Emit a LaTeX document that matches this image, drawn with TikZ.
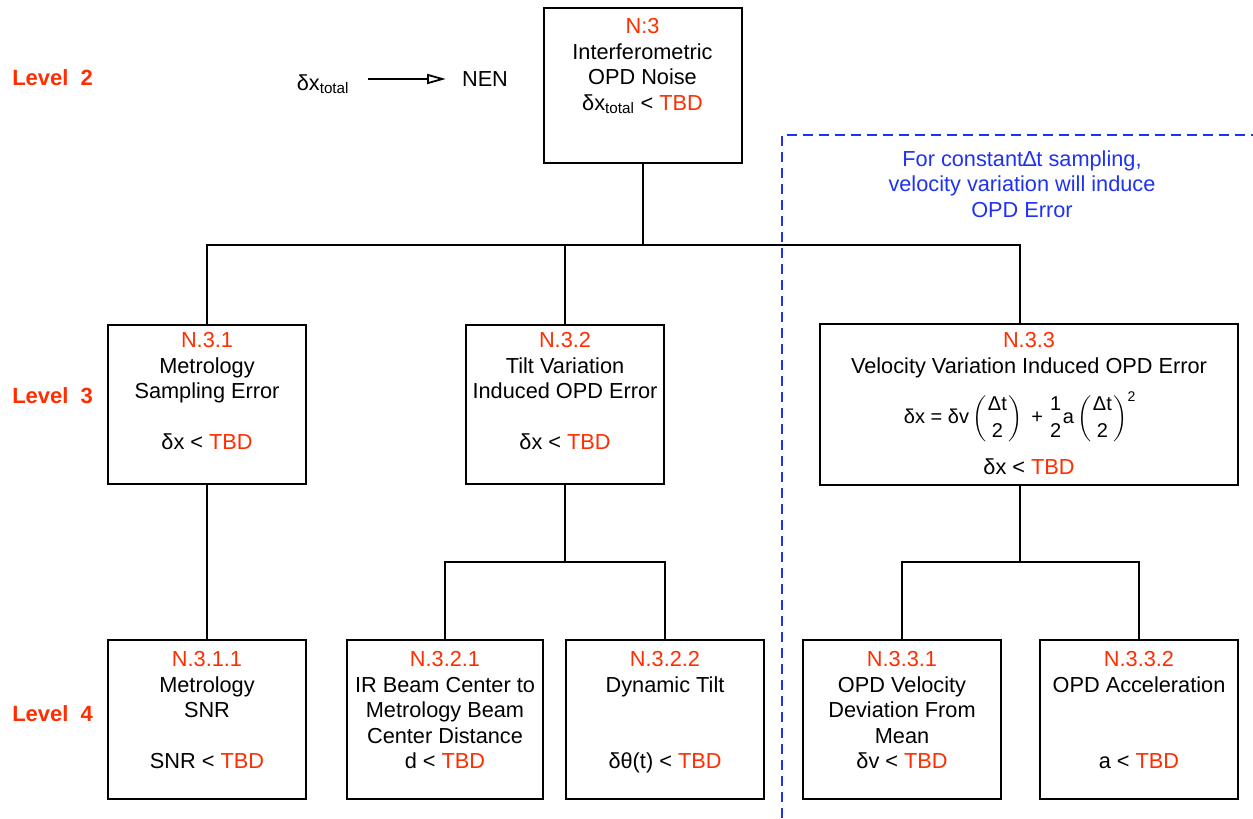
\documentclass[tikz,border=0pt]{standalone}
\usepackage{fontspec}
\usepackage{amsmath}
\setmainfont{Liberation Sans}
\usetikzlibrary{arrows.meta,positioning}

\definecolor{tbdred}{RGB}{255,45,0}
\definecolor{noteblue}{RGB}{30,50,240}
\newdimen\px \px=0.75pt
\newcommand{\reqid}[1]{\textcolor{tbdred}{#1}}
\newcommand{\tbd}{\textcolor{tbdred}{TBD}}
\newcommand{\halfof}[2]{\genfrac{}{}{0pt}{0}{\text{#1}}{\text{#2}}}

\tikzset{
  blk/.style={draw, line width=1.5pt, inner sep=0pt,
    minimum width=198\px, minimum height=159\px},
  txt/.style={align=center, inner sep=0pt, anchor=north},
  wire/.style={line width=1.35pt},
  lvl/.style={anchor=west, inner sep=0pt, text=tbdred, font=\fontsize{16.5pt}{19.2pt}\selectfont\bfseries}
}

\begin{document}
\begin{tikzpicture}[x=0.75pt, y=-0.75pt, font=\fontsize{16.3pt}{19.2pt}\selectfont]
  \useasboundingbox (0,0) rectangle (1253,818);

  % level labels
  \node[lvl] (l2) at (12,78)  {Level\ \ 2};
  \node[lvl] (l3) at (12,396) {Level\ \ 3};
  \node[lvl] (l4) at (12,714) {Level\ \ 4};

  % legend arrow
  \node[inner sep=0pt] (dxt) at (323,84) {δx\textsubscript{total}};
  \node[inner sep=0pt] (nen) at (485,79) {NEN};
  \draw[wire, -{Triangle[open, length=14pt, width=7.5pt]}, shorten <=14pt, shorten >=12pt]
    (dxt.east |- nen) -- (nen.west);

  % boxes
  \node[blk, minimum height=155\px] (n3) at (642.5,85.5) {};
  \node[blk] (n31)  at (207,404.5) {};
  \node[blk] (n32)  at (565,404.5) {};
  \node[blk, minimum width=418\px, minimum height=161\px] (n33) at (1029,404) {};
  \node[blk] (n311) at (207,719.5) {};
  \node[blk, minimum width=196\px] (n321) at (445,719.5) {};
  \node[blk] (n322) at (665,719.5) {};
  \node[blk] (n331) at (902,719.5) {};
  \node[blk] (n332) at (1139,719.5) {};

  % box texts
  \node[txt] (t3) at ([yshift=-11\px]n3.north)
    {\reqid{N:3}\\Interferometric\\OPD Noise\\δx\textsubscript{total} < \tbd};
  \node[txt] (t31) at ([yshift=-8\px]n31.north)
    {\reqid{N.3.1}\\Metrology\\Sampling Error\\[19.2pt]δx < \tbd};
  \node[txt] (t32) at ([yshift=-8\px]n32.north)
    {\reqid{N.3.2}\\Tilt Variation\\Induced OPD Error\\[19.2pt]δx < \tbd};
  \node[txt] (t33) at ([yshift=-10\px]n33.north)
    {\reqid{N.3.3}\\Velocity Variation Induced OPD Error};
  \node[inner sep=0pt, font=\fontsize{15pt}{18pt}\selectfont] (eq33) at (1020,417)
    {$\text{δx = δv}\left(\halfof{Δt}{2}\right)\text{ + }
      \halfof{1}{2}\text{a}\left(\halfof{Δt}{2}\right)^{\text{2}}$};
  \node[anchor=base, inner sep=0pt] (c33) at (1029,474) {δx < \tbd};
  \node[txt] (t311) at ([yshift=-12\px]n311.north)
    {\reqid{N.3.1.1}\\Metrology\\SNR\\[19.2pt]SNR < \tbd};
  \node[txt] (t321) at ([yshift=-12\px]n321.north)
    {\reqid{N.3.2.1}\\IR Beam Center to\\Metrology Beam\\Center Distance\\d < \tbd};
  \node[txt] (t322) at ([yshift=-12\px]n322.north)
    {\reqid{N.3.2.2}\\Dynamic Tilt\\[38.4pt]δθ(t) < \tbd};
  \node[txt] (t331) at ([yshift=-12\px]n331.north)
    {\reqid{N.3.3.1}\\OPD Velocity\\Deviation From\\Mean\\δv < \tbd};
  \node[txt] (t332) at ([yshift=-12\px]n332.north)
    {\reqid{N.3.3.2}\\OPD Acceleration\\[38.4pt]a < \tbd};

  % tree
  \coordinate (b3)  at (643,245);
  \coordinate (b32) at (565,562);
  \coordinate (b33) at (1020,562);
  \draw[wire] (n3.south -| b3) -- (b3);
  \draw[wire] (n31.north) |- (b3) -| (n33.north -| b33);
  \draw[wire] (n32.north) -- (n32.north |- b3);
  \draw[wire] (n31.south) -- (n311.north);
  \draw[wire] (n32.south -| b32) -- (b32);
  \draw[wire] (n321.north) |- (b32) -| (n322.north);
  \draw[wire] (n33.south -| b33) -- (b33);
  \draw[wire] (n331.north) |- (b33) -| (n332.north);

  % note
  \draw[noteblue, line width=1.4pt, dash pattern=on 7.5pt off 4.5pt]
    (782,818) -- (782,135) -- (1253,135);
  \node[text=noteblue, align=center, inner sep=0pt] (note) at (1022,184)
    {For constant∆t sampling,\\velocity variation will induce\\OPD Error};
\end{tikzpicture}
\end{document}
